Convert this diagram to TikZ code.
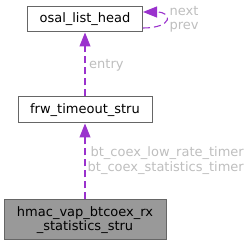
\documentclass[tikz,border=0pt]{standalone}
\usepackage{fontspec}
\setmainfont{DejaVu Sans}
\usetikzlibrary{arrows.meta}
\definecolor{edgepurple}{HTML}{9A32CD}
\definecolor{labelgray}{HTML}{BEBEBE}
\definecolor{boxgray}{HTML}{666666}
\definecolor{hlfill}{HTML}{999999}

\begin{document}
\begin{tikzpicture}[x=1pt, y=-1pt,
    every node/.style={font=\fontsize{13}{14.5}\selectfont},
    structbox/.style={draw=boxgray, fill=white, line width=1pt, inner sep=0pt, text=black},
    hlbox/.style={structbox, fill=hlfill},
    usage/.style={draw=edgepurple, line width=1.1pt, dash pattern=on 7pt off 4pt,
      -{Triangle[length=14pt, width=11pt, fill=edgepurple]}},
    edgelabel/.style={text=labelgray, inner sep=0pt}]

  \useasboundingbox (0,0) rectangle (252,245);

  % ---- Structs ----
  \node[structbox, minimum width=115pt, minimum height=25pt] (osal) at (85,19.5)
    {osal\_list\_head};
  \node[structbox, minimum width=134pt, minimum height=26pt] (frw) at (85,110)
    {frw\_timeout\_stru};
  \node[hlbox, minimum width=162pt, minimum height=40pt, align=center] (hmac) at (85,220)
    {hmac\_vap\_btcoex\_rx\\\_statistics\_stru};

  % ---- Member edges ----
  \draw[usage] (osal.east) ++(0,8.5) .. controls +(30,0) and +(30,0) .. ([yshift=7.5pt]osal.east);
  \draw[usage] (frw.north) -- (osal.south);
  \draw[usage] (hmac.north) -- (frw.south);

  % ---- Labels ----
  \node[edgelabel, align=center] (looplbl) at (184,19.5) {next\\prev};
  \node[edgelabel, anchor=west] (entrylbl) at (89,65) {entry};
  \node[edgelabel, align=right, anchor=east] (timerlbl) at (244,160.5)
    {bt\_coex\_low\_rate\_timer\\bt\_coex\_statistics\_timer};

\end{tikzpicture}
\end{document}
